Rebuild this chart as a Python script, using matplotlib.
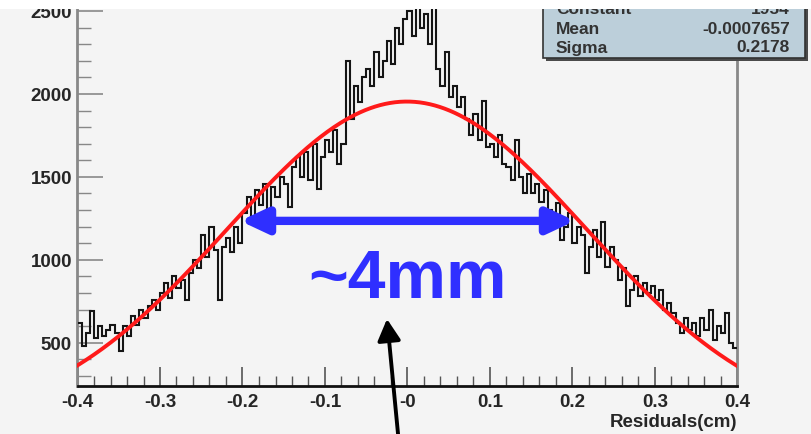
import numpy as np
import matplotlib.pyplot as plt
from matplotlib.patches import Rectangle

# residual histogram, 160 bins of 0.005 cm from -0.4 to 0.4
counts = [
    620, 480, 560, 690, 530, 600, 540, 580, 610, 560,
    450, 600, 540, 660, 610, 700, 650, 720, 760, 700,
    800, 860, 770, 900, 830, 880, 760, 920, 1000, 950,
    1150, 1020, 1200, 1060, 760, 1080, 1130, 1050, 1200, 1100,
    1280, 1380, 1250, 1420, 1330, 1460, 1300, 1440, 1380, 1500,
    1460, 1320, 1560, 1620, 1500, 1650, 1480, 1700, 1430, 1620,
    1720, 1650, 1780, 1580, 1700, 2200, 1850, 2050, 1950, 2100,
    2150, 2050, 2250, 2100, 2200, 2320, 2180, 2400, 2300, 2450,
    2500, 2350, 2600, 2400, 2480, 2300, 2550, 2150, 2050, 2250,
    1980, 2050, 1920, 1980, 1850, 1750, 1880, 1720, 1960, 1680,
    1700, 1620, 1750, 1580, 1560, 1480, 1720, 1500, 1400, 1520,
    1400, 1460, 1350, 1420, 1300, 1260, 1340, 1120, 1200, 1280,
    1100, 1200, 1150, 920, 1080, 1180, 1020, 1230, 960, 1080,
    1000, 880, 950, 720, 820, 900, 780, 860, 800, 840,
    760, 820, 700, 740, 680, 620, 560, 650, 580, 620,
    540, 650, 580, 700, 520, 600, 560, 680, 500, 470,
]
x_lo, x_hi = -0.4, 0.4

# gaussian fit parameters
fit_const = 1954
fit_mean = -0.0007657
fit_sigma = 0.2178

xtick_vals = [-0.4, -0.3, -0.2, -0.1, 0.0, 0.1, 0.2, 0.3, 0.4]
xtick_text = ['-0.4', '-0.3', '-0.2', '-0.1', '-0', '0.1', '0.2', '0.3', '0.4']
ytick_vals = [500, 1000, 1500, 2000, 2500]

bg = '#f4f4f4'
W, H = 812, 435

fig = plt.figure(figsize=(W / 100, H / 100), dpi=100, facecolor=bg)
ax = fig.add_axes([77.5 / W, 48 / H, 660 / W, 387 / H])
ax.set_facecolor(bg)

edges = np.linspace(x_lo, x_hi, len(counts) + 1)
ax.stairs(counts, edges, color='#151515', lw=1.5, baseline=None, zorder=3)

xf = np.linspace(x_lo, x_hi, 400)
yf = fit_const * np.exp(-0.5 * ((xf - fit_mean) / fit_sigma) ** 2)
ax.plot(xf, yf, color='#ff1a1a', lw=2.8, zorder=4)

ax.set_xlim(x_lo, x_hi)
ax.set_ylim(240, 2572)

ax.set_xticks(xtick_vals)
ax.set_xticklabels(xtick_text)
ax.set_xticks(np.arange(-0.4, 0.401, 0.02), minor=True)
ax.set_yticks(ytick_vals)
ax.set_yticks(np.arange(300, 2600, 100), minor=True)

lab_font = dict(family='Liberation Sans', weight='bold', size=13.5, color='#262626')
for t in ax.get_xticklabels() + ax.get_yticklabels():
    t.set(**lab_font)

ax.tick_params(axis='x', which='major', direction='in', length=14, width=1.2,
               color='#555555', pad=5)
ax.tick_params(axis='x', which='minor', direction='in', length=7, width=1.0,
               color='#555555')
ax.tick_params(axis='y', which='major', direction='in', length=19, width=1.2,
               color='#888888', pad=4)
ax.tick_params(axis='y', which='minor', direction='in', length=10, width=1.0,
               color='#888888')

ax.spines['top'].set_visible(False)
ax.spines['bottom'].set_color('#111111')
ax.spines['bottom'].set_linewidth(2)
ax.spines['left'].set_color('#888888')
ax.spines['left'].set_linewidth(2)
ax.spines['right'].set_color('#888888')
ax.spines['right'].set_linewidth(2)

fig.text(737 / W, 1 - 423 / H, 'Residuals(cm)', ha='right', va='center', **lab_font)

# width arrow and label
ax.annotate('', xy=(0.203, 1235), xytext=(-0.203, 1235),
            arrowprops=dict(arrowstyle='<|-|>,head_length=1.6,head_width=0.75',
                            color='#2f2fff', lw=6, shrinkA=0, shrinkB=0),
            zorder=6)
ax.text(0.0, 776, '~4mm', color='#2f2fff', fontsize=49, family='Liberation Sans',
        weight='bold', ha='center', va='baseline', zorder=6)

# pointer arrow coming from below the plot
ax.annotate('', xy=(387, H - 320), xytext=(399, -10),
            xycoords='figure pixels', textcoords='figure pixels',
            arrowprops=dict(arrowstyle='-|>,head_length=1.3,head_width=0.7',
                            color='black', lw=2.8, shrinkA=0, shrinkB=0),
            annotation_clip=False, zorder=7)

# fit statistics box
fig.patches.append(Rectangle((546 / W, (H - 62) / H), 262 / W, 80 / H,
                             transform=fig.transFigure, facecolor='#4a4a4a',
                             edgecolor='none', zorder=8))
fig.patches.append(Rectangle((543 / W, (H - 59) / H), 262 / W, 80 / H,
                             transform=fig.transFigure, facecolor='#bccfda',
                             edgecolor='#333333', lw=1.2, zorder=9))
stats = [('Constant', f'{fit_const}'), ('Mean', f'{fit_mean:.7f}'),
         ('Sigma', f'{fit_sigma}')]
box_font = dict(family='Liberation Sans', weight='bold', size=12.5, color='#333333')
for i, (name, val) in enumerate(stats):
    yy = 1 - (10 + 19 * i) / H
    fig.text(556 / W, yy, name, ha='left', va='center', zorder=10, **box_font)
    fig.text(790 / W, yy, val, ha='right', va='center', zorder=10, **box_font)

# white strip along the top edge
fig.patches.append(Rectangle((0, 1 - 10 / H), 1, 10 / H, transform=fig.transFigure,
                             facecolor='white', edgecolor='none', zorder=20))

fig.savefig('out.png', dpi=100, facecolor=bg)
